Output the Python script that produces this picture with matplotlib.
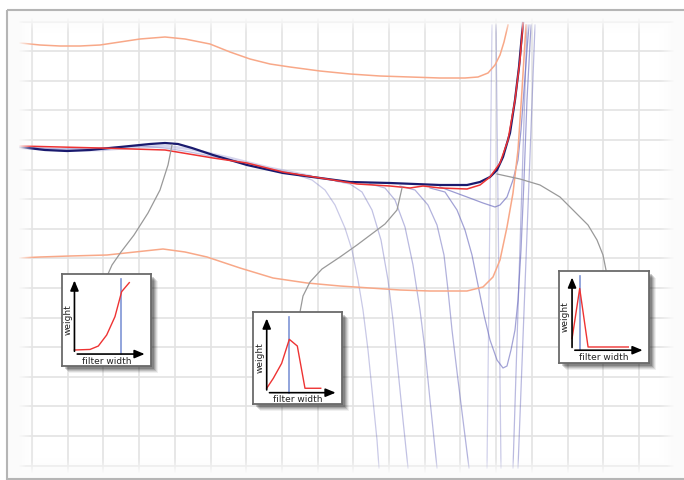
import numpy as np
import matplotlib
matplotlib.use("Agg")
import matplotlib.pyplot as plt
from matplotlib.patches import Rectangle

W, H = 684, 480

# curves (pixel units, y downwards)
upper_x = [20, 40, 60, 80, 100, 120, 140, 165, 185, 210, 230, 250, 270, 290, 320, 350, 380, 410, 440, 465, 478, 488, 495, 500, 504, 508]
upper_y = [43, 45, 46, 46, 45, 42, 39, 37, 39, 44, 52, 59, 64, 67, 71, 74, 76, 77, 78, 78, 77, 73, 65, 55, 42, 25]

lower_x = [18, 40, 70, 107, 135, 163, 185, 207, 240, 273, 307, 340, 370, 400, 430, 467, 483, 493, 500, 507, 513, 518, 522, 526]
lower_y = [258, 257, 256, 255, 252, 249, 252, 257, 268, 278, 283, 286, 288, 290, 291, 291, 287, 277, 260, 227, 193, 150, 90, 25]

navy_x = [20, 45, 67, 90, 110, 130, 150, 165, 178, 192, 213, 247, 283, 320, 350, 390, 440, 467, 480, 490, 497, 503, 510, 515, 519, 523]
navy_y = [147, 150, 151, 150, 148, 146, 144, 143, 144, 148, 155, 165, 173, 178, 182, 183, 185, 185, 182, 177, 170, 157, 133, 100, 67, 23]

red_x = [20, 100, 165, 213, 247, 283, 333, 357, 390, 410, 423, 440, 467, 480, 490, 500, 508, 515, 520, 523]
red_y = [146, 148, 150, 158, 163, 172, 180, 184, 186, 188, 186, 188, 189, 185, 177, 163, 140, 100, 60, 23]

band_x = [20, 60, 100, 140, 165, 190, 230, 270, 310]
band_y1 = [148, 150, 150, 147, 146, 149, 158, 168, 176]
band_y2 = [147, 149, 148, 146, 148, 152, 160, 169, 177]

fan = [
    ([300, 312, 325, 335, 345, 352, 358, 363, 368, 373, 377, 379],
     [176, 180, 190, 205, 228, 250, 280, 310, 350, 400, 440, 468], 0.35),
    ([335, 350, 362, 372, 381, 388, 393, 398, 403, 408],
     [181, 184, 192, 210, 240, 280, 320, 370, 420, 468], 0.4),
    ([370, 385, 395, 405, 413, 420, 425, 430, 437],
     [184, 188, 200, 227, 265, 310, 350, 400, 468], 0.45),
    ([400, 415, 428, 437, 444, 448, 452, 458, 463, 469],
     [186, 190, 205, 225, 255, 290, 330, 380, 420, 468], 0.5),
    ([430, 445, 457, 465, 472, 478, 484, 490, 497, 503, 507, 511, 515, 518, 521, 524, 527, 531],
     [188, 192, 210, 230, 255, 285, 315, 340, 360, 368, 366, 350, 330, 300, 250, 180, 100, 25], 0.6),
    ([440, 467, 483, 495, 500, 507, 513, 518, 521, 524, 527, 529],
     [187, 197, 203, 207, 205, 197, 180, 160, 130, 90, 50, 25], 0.65),
    ([492, 487], [25, 468], 0.3),
    ([496, 501], [25, 468], 0.35),
    ([527, 513], [25, 468], 0.45),
    ([535, 518], [25, 468], 0.45),
]

links = [
    ([172, 168, 160, 148, 134, 121, 112, 108], [145, 165, 190, 213, 235, 252, 265, 274]),
    ([402, 397, 385, 373, 357, 340, 322, 310, 303, 300], [188, 210, 224, 233, 245, 257, 269, 282, 296, 312]),
    ([497, 520, 540, 560, 575, 588, 597, 603, 606], [174, 179, 185, 197, 212, 225, 240, 255, 270]),
]

# inset boxes: left, top, right, bottom (pixels)
boxes = [(62, 274, 151, 366), (253, 312, 342, 404), (559, 271, 649, 363)]
origin = [(0.14, 0.13), (0.154, 0.123), (0.145, 0.139)]
inset_x = [
    [0.14, 0.315, 0.408, 0.502, 0.595, 0.67, 0.756],
    [0.154, 0.228, 0.322, 0.408, 0.498, 0.584, 0.761],
    [0.145, 0.23, 0.323, 0.77],
]
inset_y = [
    [0.174, 0.18, 0.217, 0.337, 0.536, 0.808, 0.906],
    [0.171, 0.279, 0.442, 0.703, 0.63, 0.171, 0.171],
    [0.265, 0.81, 0.174, 0.174],
]
marker_x = [0.659, 0.404, 0.23]

fig = plt.figure(figsize=(W / 100, H / 100), dpi=100)
ax = fig.add_axes([0, 0, 1, 1])
ax.set_xlim(0, W)
ax.set_ylim(H, 0)
ax.axis("off")

# grid
for gx in np.arange(32, 680, 35.7):
    ax.plot([gx, gx], [10, 478], color="#e3e3e3", lw=1.2, zorder=1)
for gy in np.arange(21.5, 476, 29.6):
    ax.plot([7, 684], [gy, gy], color="#e3e3e3", lw=1.2, zorder=1)

# curves
for fx, fy, a in fan:
    ax.plot(fx, fy, color="#6666bb", lw=0.9, alpha=a, zorder=2)
ax.plot(band_x, band_y1, color="#8888cc", lw=2.0, alpha=0.35, zorder=2)
ax.plot(band_x, band_y2, color="#8888cc", lw=1.0, alpha=0.5, zorder=2)
ax.plot(upper_x, upper_y, color="#f8a888", lw=1.1, zorder=3)
ax.plot(lower_x, lower_y, color="#f8a888", lw=1.1, zorder=3)
ax.plot(navy_x, navy_y, color="#1a1a6e", lw=1.6, zorder=4)
ax.plot(red_x, red_y, color="#ee3333", lw=1.1, zorder=5)

for lx, ly in links:
    ax.plot(lx, ly, color="#999999", lw=0.9, zorder=6)

# fade the grid toward the frame edges
yy, xx = np.mgrid[0:H, 0:W]
d = np.minimum.reduce([xx - 18, yy - 17, 674 - xx, 473 - yy]).astype(float)
alpha = np.clip(1 - d / 16.0, 0, 1) ** 1.2
img = np.ones((H, W, 4))
img[..., :3] = 0.985
img[..., 3] = alpha
ax.imshow(img, extent=(0, W, H, 0), zorder=7, interpolation="bilinear")
ax.set_xlim(0, W)
ax.set_ylim(H, 0)

ax.add_patch(Rectangle((0, 0), W, 9, fc="white", lw=0, zorder=7.5))
ax.add_patch(Rectangle((0, 0), 6.5, H, fc="white", lw=0, zorder=7.5))
ax.add_patch(Rectangle((6.5, 9.5), W, 469, fill=False, ec="#b5b5b5", lw=1.5, zorder=8))

# insets with shadow
for i, (l, t, r, b) in enumerate(boxes):
    for k, s in enumerate([7, 6, 5, 4, 3]):
        ax.add_patch(Rectangle((l + s, t + s), r - l, b - t, fc="#000000",
                               alpha=0.06 + 0.03 * k, lw=0, zorder=9))
    iax = fig.add_axes([l / W, 1 - b / H, (r - l) / W, (b - t) / H])
    iax.set_xlim(0, 1)
    iax.set_ylim(0, 1)
    iax.set_xticks([])
    iax.set_yticks([])
    for sp in iax.spines.values():
        sp.set_color("#6a6a6a")
        sp.set_linewidth(1.3)
    ox, oy = origin[i]
    iax.plot([marker_x[i], marker_x[i]], [oy, 0.945], color="#7f95d6", lw=1.2, zorder=2)
    iax.plot(inset_x[i], inset_y[i], color="#ee3333", lw=1.0, zorder=3)
    iax.annotate("", xy=(0.96, oy), xytext=(ox, oy),
                 arrowprops=dict(arrowstyle="-|>,head_length=0.6,head_width=0.25", color="black", lw=1.2))
    iax.annotate("", xy=(ox, 0.96), xytext=(ox, oy),
                 arrowprops=dict(arrowstyle="-|>,head_length=0.6,head_width=0.25", color="black", lw=1.2))
    iax.text(ox / 2, 0.5, "weight", rotation=90, ha="center", va="center", fontsize=6.5, color="#222222")
    iax.text(0.5, oy / 2 - 0.015, "filter width", ha="center", va="center", fontsize=6.5, color="#222222")

fig.savefig("out.png", dpi=100)
